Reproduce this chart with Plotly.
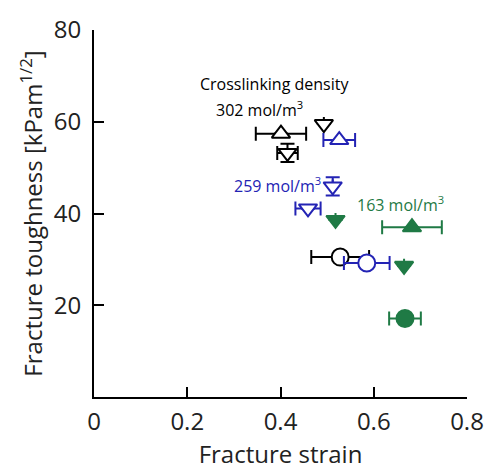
import plotly.graph_objects as go

# Black: 302 mol/m3
k_x = [0.401, 0.493, 0.415, 0.528]
k_y = [57.4, 59.5, 53.2, 30.5]
k_xerr = [0.054, None, 0.022, 0.062]
k_yerr = [None, None, 2.0, None]
k_sym = ["triangle-up", "triangle-down", "triangle-down", "circle"]

# Blue: 259 mol/m3
b_x = [0.526, 0.512, 0.459, 0.585]
b_y = [56.0, 45.9, 41.1, 29.2]
b_xerr = [0.034, None, 0.027, 0.049]
b_yerr = [None, 2.0, None, None]
b_sym = ["triangle-up", "triangle-down", "triangle-down", "circle"]

# Green: 163 mol/m3
g_x = [0.518, 0.682, 0.665, 0.667]
g_y = [38.6, 37.0, 28.6, 17.1]
g_xerr = [None, 0.064, None, 0.034]
g_yerr = [None, None, None, None]
g_sym = ["triangle-down", "triangle-up", "triangle-down", "circle"]

x_ticks = [0, 0.2, 0.4, 0.6, 0.8]
x_labels = ["0", "0.2", "0.4", "0.6", "0.8"]
y_ticks = [20, 40, 60, 80]

BLACK = "#000000"
BLUE = "#2323b4"
GREEN = "#1f7a45"

fig = go.Figure()

def add_series(xs, ys, xe, ye, syms, color, fill):
    fig.add_trace(go.Scatter(
        x=xs, y=ys, mode="markers",
        error_x=dict(type="data", array=xe, visible=True, color=color, thickness=2, width=7),
        error_y=dict(type="data", array=ye, visible=True, color=color, thickness=2, width=7),
        marker=dict(symbol=syms, size=[16, 16, 16, 17], color=fill, opacity=1,
                    line=dict(color=color, width=2)),
        showlegend=False,
    ))

add_series(k_x, k_y, k_xerr, k_yerr, k_sym, BLACK, "white")
add_series(b_x, b_y, b_xerr, b_yerr, b_sym, BLUE, "white")
add_series(g_x, g_y, g_xerr, g_yerr, g_sym, GREEN, GREEN)

font = "Open Sans"
fig.add_annotation(x=0.387, y=68.2, text="Crosslinking density", showarrow=False,
                   font=dict(family=font, size=16, color=BLACK))
fig.add_annotation(x=0.356, y=62.7, text="302 mol/m<sup>3</sup>", showarrow=False,
                   font=dict(family=font, size=16, color=BLACK))
fig.add_annotation(x=0.394, y=46.2, text="259 mol/m<sup>3</sup>", showarrow=False,
                   font=dict(family=font, size=16, color=BLUE))
fig.add_annotation(x=0.657, y=42.0, text="163 mol/m<sup>3</sup>", showarrow=False,
                   font=dict(family=font, size=16, color=GREEN))

fig.update_layout(
    width=496, height=470,
    margin=dict(l=94, r=22, t=22, b=65),
    paper_bgcolor="white", plot_bgcolor="white",
    font=dict(family=font, size=24, color="#222222"),
)
fig.update_xaxes(range=[0, 0.8], tickvals=x_ticks, ticktext=x_labels,
                 ticks="inside", ticklen=10, tickwidth=2, tickcolor=BLACK,
                 ticklabeloverflow="allow", ticklabelstandoff=2,
                 showline=True, linewidth=2, linecolor=BLACK, showgrid=False, zeroline=False,
                 title=dict(text="Fracture strain", standoff=4, font=dict(size=24)))
fig.update_yaxes(range=[0, 80], tickvals=y_ticks,
                 ticks="inside", ticklen=10, tickwidth=2, tickcolor=BLACK,
                 ticklabeloverflow="allow", ticklabelstandoff=6,
                 showline=True, linewidth=2, linecolor=BLACK, showgrid=False, zeroline=False,
                 title=dict(text="Fracture toughness [kPam<sup>1/2</sup>]", standoff=4, font=dict(size=24)))

fig.write_html("out.html", config={"displayModeBar": False},
               post_script="document.body.style.margin='0';document.body.style.overflow='hidden';")
